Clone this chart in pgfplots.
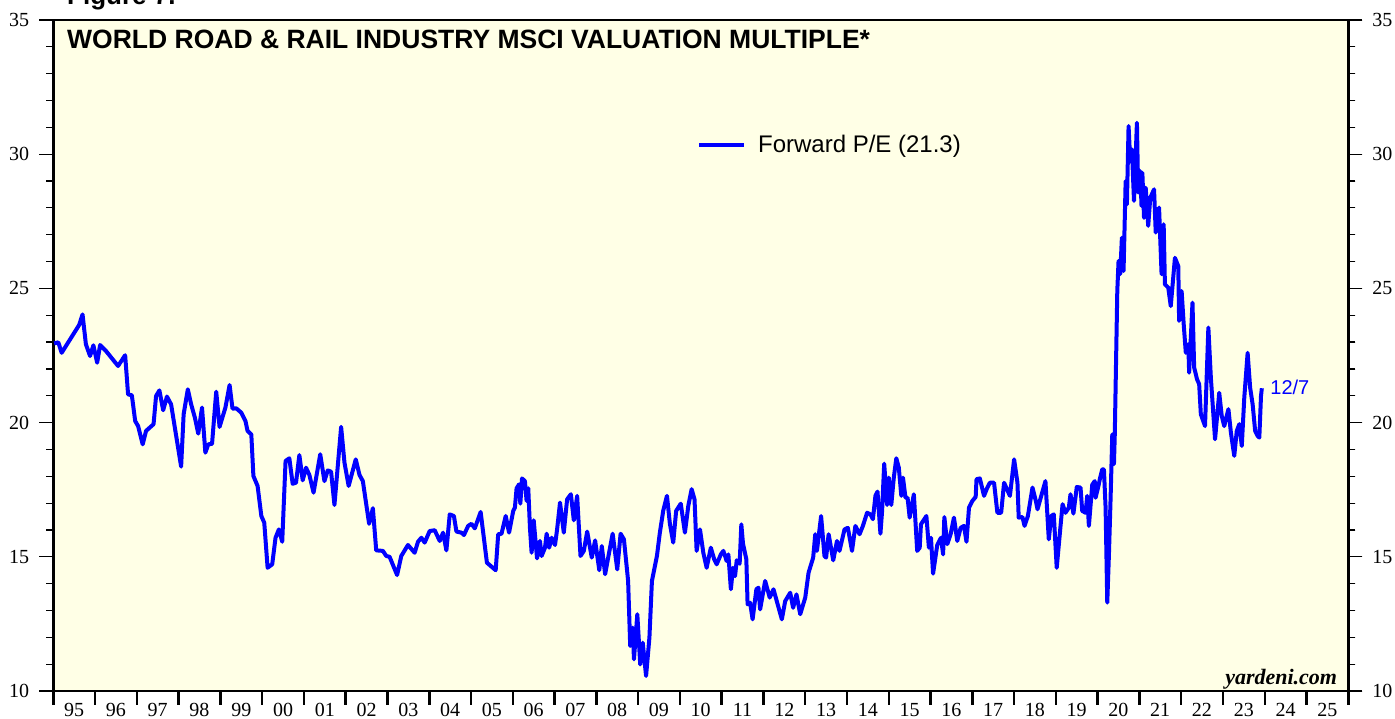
\documentclass[border=0pt]{standalone}
\usepackage{pgfplots}
\pgfplotsset{compat=1.18}
\usepackage{fontspec}
\setmainfont{Liberation Serif}
\newfontfamily\arial{Liberation Sans}
\definecolor{bgyellow}{RGB}{255,255,230}
\definecolor{lineblue}{RGB}{0,0,255}
\begin{document}
\begin{tikzpicture}
\useasboundingbox (-53.3pt,-28pt) rectangle (1341.7pt,691pt);
\pgfplotsset{
  common/.style={
    scale only axis, width=1295pt, height=671pt,
    xmin=1995, xmax=2026, ymin=10, ymax=35,
    /pgf/number format/assume math mode=true,
    tick align=outside,
    major tick length=14pt, minor tick length=7pt,
    tick label style={font=\fontsize{20}{24}\selectfont},
    xtick style={line width=2.5pt, black},
    ytick style={line width=1.2pt, black},
    ytick={10,15,...,35}, minor y tick num=4,
    yticklabel style={inner sep=0pt, xshift=-10pt},
    axis line style={line width=2.5pt},
  }
}
\begin{axis}[common,
  clip=false,
  axis background/.style={fill=bgyellow},
  xtick pos=left, ytick pos=both,
  xtick={1995,1996,...,2026}, xticklabels={},
  extra x ticks={1995.5,1996.5,...,2025.5},
  extra x tick labels={95,96,97,98,99,00,01,02,03,04,05,06,07,08,09,10,11,12,13,14,15,16,17,18,19,20,21,22,23,24,25},
  extra x tick style={xtick style={draw=none}, xticklabel style={inner sep=0pt, anchor=north, yshift=2pt}},
  legend style={at={(0.497,0.814)}, anchor=west, draw=none, fill=none,
    font=\arial\fontsize{24}{28}\selectfont, inner sep=0pt},
  legend cell align=left,
  legend image code/.code={\draw[#1, line width=4pt] (0pt,0pt) -- (45pt,0pt); \path (55pt,0pt);},
]
\addplot[lineblue, line width=4pt, line join=round] table {
1995.02 22.95
1995.12 22.99
1995.20 22.60
1995.62 23.64
1995.70 24.03
1995.78 22.92
1995.88 22.48
1995.96 22.88
1996.05 22.23
1996.12 22.89
1996.26 22.67
1996.55 22.11
1996.72 22.51
1996.79 21.05
1996.88 21.02
1996.96 20.06
1997.03 19.87
1997.14 19.19
1997.22 19.69
1997.40 19.94
1997.46 20.99
1997.54 21.20
1997.63 20.46
1997.72 20.97
1997.82 20.68
1998.06 18.36
1998.12 20.31
1998.22 21.24
1998.30 20.68
1998.39 20.18
1998.47 19.59
1998.56 20.56
1998.64 18.88
1998.71 19.19
1998.80 19.21
1998.90 21.15
1998.98 19.84
1999.12 20.56
1999.22 21.40
1999.29 20.52
1999.38 20.53
1999.50 20.37
1999.60 20.06
1999.65 19.69
1999.74 19.56
1999.79 18.01
1999.89 17.64
1999.98 16.52
2000.05 16.27
2000.13 14.59
2000.24 14.72
2000.32 15.71
2000.40 16.02
2000.48 15.56
2000.56 18.57
2000.65 18.67
2000.73 17.72
2000.81 17.76
2000.89 18.79
2000.97 17.85
2001.05 18.32
2001.13 18.05
2001.23 17.39
2001.39 18.82
2001.49 17.82
2001.57 18.22
2001.65 18.17
2001.73 16.93
2001.89 19.84
2001.97 18.51
2002.07 17.64
2002.24 18.63
2002.33 18.05
2002.41 17.82
2002.56 16.23
2002.65 16.81
2002.73 15.24
2002.89 15.22
2002.97 15.03
2003.05 15.00
2003.23 14.32
2003.33 15.03
2003.49 15.44
2003.65 15.15
2003.73 15.56
2003.81 15.71
2003.89 15.53
2004.01 15.96
2004.13 15.99
2004.25 15.59
2004.33 15.90
2004.41 15.24
2004.49 16.58
2004.59 16.52
2004.65 15.94
2004.77 15.90
2004.83 15.81
2004.93 16.15
2005.01 16.23
2005.09 16.06
2005.23 16.67
2005.38 14.78
2005.59 14.50
2005.65 15.84
2005.73 15.86
2005.83 16.52
2005.91 15.90
2006.01 16.71
2006.05 16.83
2006.09 17.55
2006.15 17.70
2006.18 16.98
2006.22 17.92
2006.29 17.82
2006.33 17.08
2006.37 17.55
2006.41 16.08
2006.45 15.15
2006.50 16.36
2006.58 14.94
2006.65 15.59
2006.69 15.03
2006.77 15.34
2006.81 15.86
2006.87 15.34
2006.93 15.71
2007.01 15.44
2007.06 16.02
2007.13 17.02
2007.22 15.90
2007.30 17.14
2007.39 17.33
2007.46 16.36
2007.54 17.27
2007.62 15.03
2007.70 15.22
2007.78 15.94
2007.89 14.97
2007.97 15.61
2008.07 14.50
2008.13 15.40
2008.21 14.35
2008.29 15.03
2008.39 15.86
2008.50 14.53
2008.58 15.86
2008.66 15.65
2008.76 14.10
2008.81 11.68
2008.87 12.36
2008.90 11.18
2008.98 12.86
2009.05 10.99
2009.11 11.80
2009.19 10.56
2009.27 11.99
2009.33 14.10
2009.45 15.03
2009.52 15.90
2009.60 16.71
2009.69 17.27
2009.76 16.23
2009.84 15.53
2009.91 16.71
2010.02 16.98
2010.12 15.90
2010.20 16.89
2010.28 17.52
2010.35 17.14
2010.40 15.22
2010.48 16.02
2010.56 15.15
2010.64 14.59
2010.74 15.34
2010.82 14.91
2010.88 14.72
2010.98 15.09
2011.04 15.22
2011.12 14.84
2011.16 15.09
2011.22 13.79
2011.27 14.59
2011.32 14.28
2011.36 14.87
2011.43 14.74
2011.47 16.21
2011.51 15.49
2011.59 14.91
2011.62 13.23
2011.68 13.29
2011.74 12.67
2011.83 13.79
2011.88 13.85
2011.92 13.04
2012.04 14.10
2012.15 13.48
2012.24 13.79
2012.34 13.23
2012.44 12.67
2012.52 13.35
2012.64 13.66
2012.71 13.10
2012.79 13.60
2012.88 12.86
2013.00 13.48
2013.08 14.41
2013.19 14.97
2013.24 15.84
2013.28 15.22
2013.38 16.52
2013.46 15.03
2013.50 14.97
2013.56 15.84
2013.67 14.87
2013.76 15.59
2013.82 15.22
2013.94 16.02
2014.02 16.08
2014.12 15.22
2014.20 16.15
2014.30 15.84
2014.38 16.15
2014.48 16.64
2014.56 16.58
2014.62 16.40
2014.68 17.27
2014.73 17.43
2014.80 15.86
2014.84 16.71
2014.89 18.47
2014.96 16.93
2015.00 17.95
2015.06 16.93
2015.12 17.95
2015.18 18.67
2015.24 18.32
2015.30 17.27
2015.34 17.95
2015.40 17.20
2015.45 17.20
2015.50 16.46
2015.60 17.33
2015.68 15.22
2015.74 15.34
2015.77 16.21
2015.90 16.52
2015.96 15.34
2016.01 15.71
2016.06 14.37
2016.16 15.44
2016.25 15.71
2016.30 15.09
2016.33 16.48
2016.40 15.47
2016.48 15.84
2016.56 16.46
2016.64 15.59
2016.72 16.08
2016.80 16.15
2016.86 15.56
2016.92 16.83
2017.00 17.08
2017.08 17.23
2017.10 17.89
2017.18 17.92
2017.28 17.27
2017.36 17.58
2017.42 17.76
2017.52 17.76
2017.60 16.64
2017.69 16.64
2017.76 17.76
2017.84 17.48
2017.90 17.27
2018.00 18.63
2018.08 17.76
2018.11 16.46
2018.20 16.48
2018.25 16.15
2018.33 16.52
2018.44 17.58
2018.52 17.08
2018.56 16.77
2018.65 17.27
2018.75 17.82
2018.83 15.65
2018.89 16.52
2018.95 16.58
2019.02 14.59
2019.10 15.96
2019.16 16.96
2019.23 16.64
2019.31 16.83
2019.35 17.33
2019.42 16.61
2019.50 17.60
2019.59 17.58
2019.63 16.71
2019.71 16.64
2019.75 17.27
2019.79 16.15
2019.87 17.68
2019.93 17.82
2019.95 17.20
2020.01 17.58
2020.06 17.95
2020.11 18.26
2020.15 18.26
2020.19 16.83
2020.23 13.29
2020.27 15.09
2020.31 17.20
2020.35 19.56
2020.39 18.45
2020.41 19.56
2020.47 24.90
2020.50 26.02
2020.54 25.53
2020.58 26.89
2020.62 25.65
2020.67 29.00
2020.70 28.13
2020.74 31.05
2020.78 29.75
2020.82 30.18
2020.87 28.26
2020.94 31.17
2020.97 28.57
2021.02 29.37
2021.05 28.07
2021.07 29.31
2021.11 27.63
2021.15 28.75
2021.21 27.33
2021.26 28.38
2021.35 28.69
2021.39 27.08
2021.47 28.01
2021.53 25.53
2021.58 27.39
2021.61 25.15
2021.69 25.03
2021.75 24.34
2021.85 26.14
2021.93 25.83
2021.95 23.79
2022.01 24.90
2022.06 23.66
2022.11 22.60
2022.17 22.92
2022.19 21.86
2022.27 24.47
2022.31 22.05
2022.38 21.61
2022.43 21.43
2022.47 20.31
2022.57 19.87
2022.65 23.54
2022.71 21.67
2022.81 19.38
2022.91 21.11
2022.97 20.25
2023.03 19.87
2023.13 20.50
2023.19 19.62
2023.27 18.76
2023.33 19.69
2023.39 19.94
2023.45 19.13
2023.51 20.93
2023.59 22.60
2023.65 21.30
2023.71 20.68
2023.77 19.69
2023.83 19.50
2023.87 19.44
2023.91 20.99
2023.93 21.28
};
\addlegendentry{Forward P/E (21.3)}
\node[anchor=north west, inner sep=0pt, font=\arial\bfseries\fontsize{26.5}{30}\selectfont] at (rel axis cs:0.0106,0.985) {WORLD ROAD \& RAIL INDUSTRY MSCI VALUATION MULTIPLE*};
\node[anchor=west, inner sep=0pt, text=lineblue, font=\arial\fontsize{20}{24}\selectfont] at (axis cs:2024.13,21.3) {12/7};
\node[anchor=base east, inner sep=0pt, font=\fontsize{22}{26}\selectfont\bfseries\itshape] at (rel axis cs:0.9915,0.0104) {yardeni.com};
\node[anchor=base west, inner sep=0pt, yshift=15pt, font=\arial\bfseries\fontsize{26}{30}\selectfont] at (rel axis cs:0.0106,1) {Figure 7.};
\end{axis}
\begin{axis}[common,
  axis x line=none, axis y line*=right,
  ytick pos=right, yticklabel pos=right,
  yticklabel style={inner sep=0pt, xshift=20pt},
]
\end{axis}
\end{tikzpicture}
\end{document}
